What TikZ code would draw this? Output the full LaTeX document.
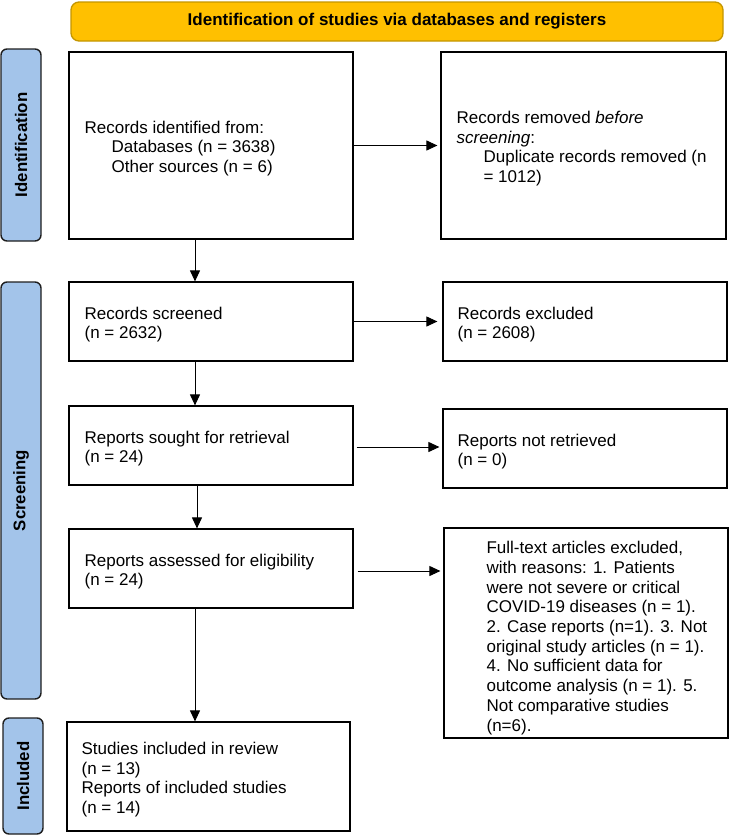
\documentclass[tikz,border=0pt]{standalone}
\usepackage{fontspec}
\setmainfont{Liberation Sans}
\usetikzlibrary{arrows.meta}
\definecolor{bannerfill}{RGB}{255,192,0}
\definecolor{bannerdraw}{RGB}{196,150,0}
\definecolor{barfill}{RGB}{163,196,234}
\definecolor{bardraw}{RGB}{30,30,30}
\begin{document}
\begin{tikzpicture}[x=1pt,y=-1pt,
  every node/.style={font=\fontsize{17}{19.7}\selectfont},
  banner/.style={draw=bannerdraw, fill=bannerfill, line width=1.3pt, rounded corners=8pt, inner sep=0,
    font=\fontsize{17}{20}\selectfont\bfseries},
  bar/.style={draw=bardraw, fill=barfill, line width=1.4pt, rounded corners=6pt, inner sep=0, rotate=90,
    font=\fontsize{16.8}{20}\selectfont\bfseries},
  frame/.style={draw=black, line width=1.2pt, inner sep=0},
  txt/.style={anchor=west, align=left, inner sep=0, yshift=-3pt},
  arr/.style={draw=black, line width=1pt, -{Triangle[length=11pt,width=10pt]}}]
\useasboundingbox (0,0) rectangle (729,835);

% banner
\node[banner, minimum width=652, minimum height=39] (ban) at (397,21.5) {Identification of studies via databases and registers};

% side bars
\node[bar, minimum width=192, minimum height=40] (idbar) at (21,145) {Identification};
\node[bar, minimum width=417, minimum height=40] (scbar) at (21,490.5) {Screening};
\node[bar, minimum width=116, minimum height=40] (inbar) at (23,776) {Included};

% boxes
\node[frame, minimum width=284, minimum height=187] (b1) at (211,145.5) {};
\node[txt] (t1) at ([xshift=16pt]b1.west) {Records identified from:\\\hspace*{27pt}Databases (n = 3638)\\\hspace*{27pt}Other sources (n = 6)};

\node[frame, minimum width=285, minimum height=187] (b2) at (583.5,145.5) {};
\node[txt] (t2) at ([xshift=16pt]b2.west) {Records removed \textit{before}\\\textit{screening}:\\\hspace*{27pt}Duplicate records removed (n\\\hspace*{27pt}= 1012)};

\node[frame, minimum width=284, minimum height=79] (b3) at (211,321.5) {};
\node[txt] (t3) at ([xshift=16pt]b3.west) {Records screened\\(n = 2632)};

\node[frame, minimum width=284, minimum height=79] (b4) at (585,321.5) {};
\node[txt] (t4) at ([xshift=15pt]b4.west) {Records excluded\\(n = 2608)};

\node[frame, minimum width=284, minimum height=79] (b5) at (211,445.5) {};
\node[txt] (t5) at ([xshift=16pt]b5.west) {Reports sought for retrieval\\(n = 24)};

\node[frame, minimum width=284, minimum height=79] (b6) at (585,448.5) {};
\node[txt] (t6) at ([xshift=15pt]b6.west) {Reports not retrieved\\(n = 0)};

\node[frame, minimum width=284, minimum height=79] (b7) at (211,568.5) {};
\node[txt] (t7) at ([xshift=16pt]b7.west) {Reports assessed for eligibility\\(n = 24)};

\node[frame, minimum width=284, minimum height=210] (b8) at (586,633) {};
\node[txt] (t8) at ([xshift=43pt,yshift=-2pt]b8.west) {Full-text articles excluded,\\with reasons: 1. Patients\\were not severe or critical\\COVID-19 diseases (n = 1).\\2. Case reports (n=1). 3. Not\\original study articles (n = 1).\\4. No sufficient data for\\outcome analysis (n = 1). 5.\\Not comparative studies\\(n=6).};

\node[frame, minimum width=283, minimum height=109] (b9) at (208.5,776.5) {};
\node[txt] (t9) at ([xshift=15pt]b9.west) {Studies included in review\\(n = 13)\\Reports of included studies\\(n = 14)};

% connectors
\draw[arr] (b1.east) -- ([xshift=-3pt]b2.west);
\draw[arr] ([xshift=-16pt]b1.south) -- ([xshift=-16pt]b3.north);
\draw[arr] (b3.east) -- ([xshift=-5pt]b4.west);
\draw[arr] ([xshift=-16pt]b3.south) -- ([xshift=-16pt]b5.north);
\draw[arr] ([shift={(3,1.5)}]b5.east) -- ([shift={(-3,-1.5)}]b6.west);
\draw[arr] ([xshift=-14pt]b5.south) -- ([xshift=-14pt]b7.north);
\draw ([shift={(4,2.5)}]b7.east) coordinate (p78);
\coordinate (q78) at (p78 -| b8.west);
\draw[arr] (p78) -- ([xshift=-3pt]q78);
\draw ([xshift=-16pt]b7.south) coordinate (p79);
\draw[arr] (p79) -- (p79 |- b9.north);
\end{tikzpicture}
\end{document}
